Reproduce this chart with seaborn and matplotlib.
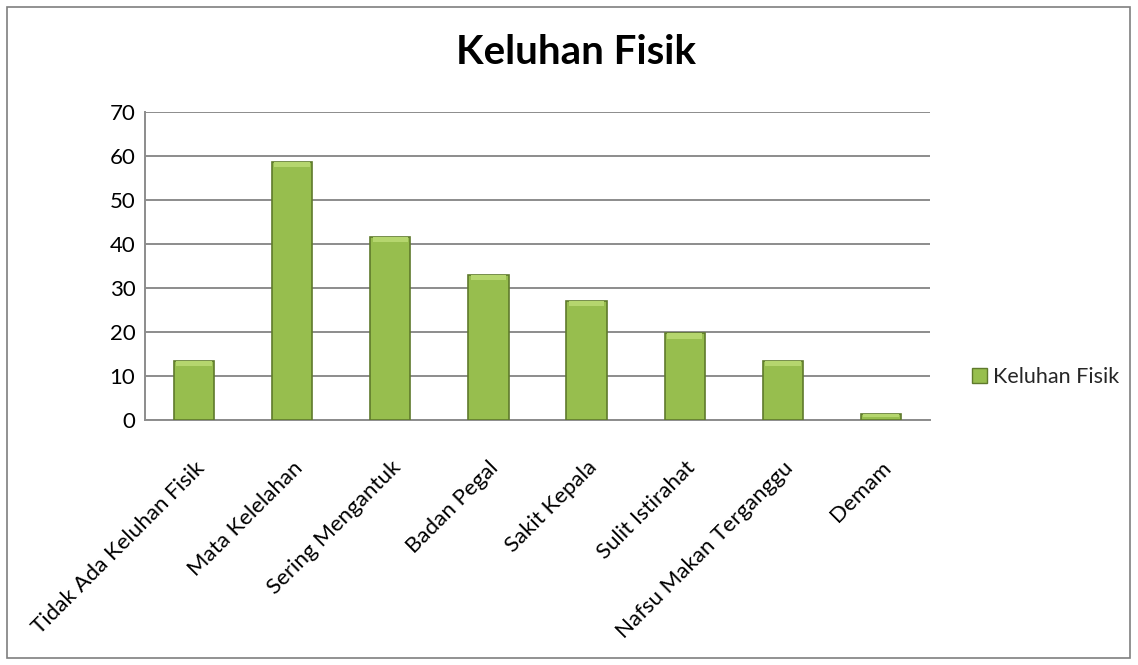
import matplotlib
matplotlib.use("Agg")
import matplotlib.pyplot as plt
import matplotlib.patches as mpatches
import pandas as pd
import seaborn as sns

categories = [
    "Tidak Ada Keluhan Fisik", "Mata Kelelahan", "Sering Mengantuk",
    "Badan Pegal", "Sakit Kepala", "Sulit Istirahat",
    "Nafsu Makan Terganggu", "Demam",
]
values = [13.5, 58.7, 41.7, 33.0, 27.0, 19.7, 13.5, 1.4]
series_name = "Keluhan Fisik"
y_ticks = [0, 10, 20, 30, 40, 50, 60, 70]

BAR = "#97BE4E"
EDGE = "#5F7A2C"
GRID = "#8C8C8C"

sns.set_theme(style="white")
plt.rcParams["font.family"] = ["Lato", "DejaVu Sans"]

df = pd.DataFrame({"kategori": categories, "nilai": values})

fig = plt.figure(figsize=(11.38, 6.65), dpi=100)
ax = fig.add_axes([145 / 1138, 1 - 420 / 665, 785 / 1138, 308 / 665])

sns.barplot(data=df, x="kategori", y="nilai", color=BAR, width=0.41,
            edgecolor=EDGE, linewidth=1.2, saturation=1, ax=ax, zorder=3)

# lighter top cap to hint at the bevelled look
for p in ax.patches:
    x, w, h = p.get_x(), p.get_width(), p.get_height()
    cap = min(1.2, h * 0.5)
    ax.add_patch(mpatches.Rectangle((x + w * 0.06, h - cap), w * 0.88, cap,
                                    color="#B5D66E", zorder=4, lw=0))

ax.set_ylim(0, 70)
ax.set_xlim(-0.5, len(categories) - 0.5)
ax.set_yticks(y_ticks)
ax.yaxis.grid(True, color=GRID, linewidth=1.4, zorder=0)
ax.set_axisbelow(True)
for side in ["top", "right"]:
    ax.spines[side].set_visible(False)
for side in ["left", "bottom"]:
    ax.spines[side].set_color(GRID)
    ax.spines[side].set_linewidth(1.4)

ax.tick_params(axis="both", length=0, labelsize=16, colors="black")
ax.tick_params(axis="y", pad=7)
ax.tick_params(axis="x", pad=27)
ax.set_xticks(range(len(categories)))
ax.set_xticklabels(categories, rotation=45, ha="right", rotation_mode="anchor")
ax.set_xlabel("")
ax.set_ylabel("")

fig.text(576 / 1138, 1 - 52 / 665, "Keluhan Fisik", ha="center", va="center",
         fontsize=29, fontweight="bold", color="black")

handle = mpatches.Patch(facecolor=BAR, edgecolor=EDGE, label=series_name)
fig.legend(handles=[handle], loc="center left",
           bbox_to_anchor=(953 / 1138, 1 - 377 / 665), frameon=False,
           fontsize=15.5, handlelength=0.7, handleheight=0.7, handletextpad=0.25)

fig.add_artist(mpatches.Rectangle((7 / 1138, 7 / 665), 1123 / 1138, 651 / 665,
                                  transform=fig.transFigure, fill=False,
                                  edgecolor="#7F7F7F", linewidth=1.2))

fig.savefig("out.png", dpi=100)
